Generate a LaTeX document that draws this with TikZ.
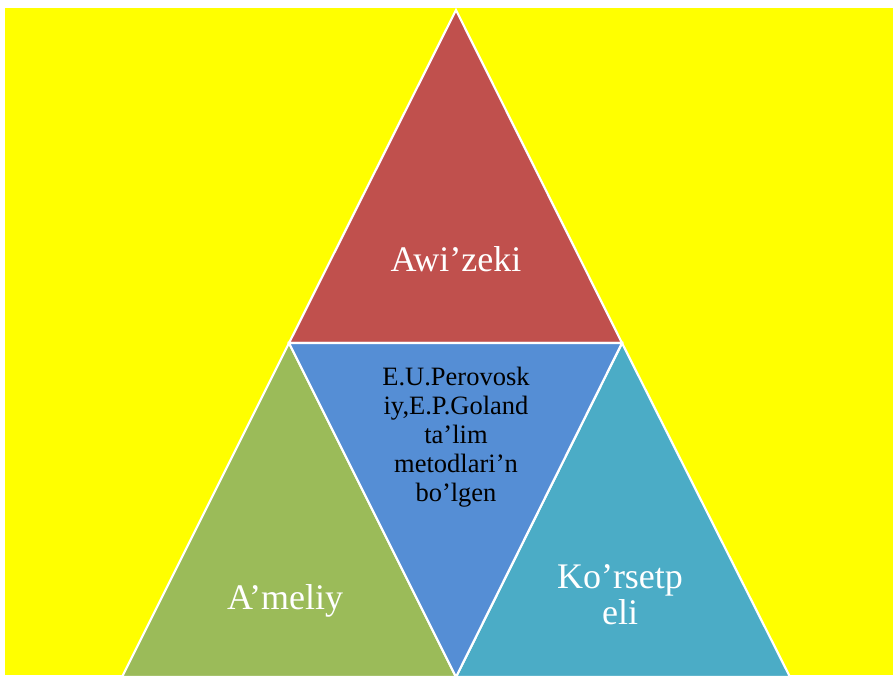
\documentclass[tikz,border=0pt]{standalone}
\usepackage{fontspec}
\setmainfont{Liberation Serif}
\definecolor{bgyellow}{RGB}{255,255,0}
\definecolor{tred}{RGB}{192,80,77}
\definecolor{tgreen}{RGB}{155,187,89}
\definecolor{tblue}{RGB}{85,142,213}
\definecolor{tcyan}{RGB}{75,172,198}
\tikzset{
  tri/.style={draw=white, line width=2.2pt, line join=miter},
  bigtext/.style={text=white, font=\fontsize{36}{36}\selectfont, inner sep=0pt, align=center},
  midtext/.style={text=black, font=\fontsize{26.5}{29}\selectfont, inner sep=0pt, align=center}
}
\begin{document}
\begin{tikzpicture}[x=1pt,y=-1pt]
\useasboundingbox (0,0) rectangle (893,675);
\fill[bgyellow] (5,8) rectangle (893,675);
\coordinate (apex) at (456,10);
\coordinate (ml) at (289,343);
\coordinate (mr) at (622,343);
\coordinate (bl) at (122,677);
\coordinate (bm) at (456,677);
\coordinate (br) at (790,677);
\filldraw[tri, fill=tred] (apex) -- (ml) -- (mr) -- cycle;
\filldraw[tri, fill=tgreen] (ml) -- (bl) -- (bm) -- cycle;
\filldraw[tri, fill=tcyan] (mr) -- (bm) -- (br) -- cycle;
\filldraw[tri, fill=tblue] (ml) -- (mr) -- (bm) -- cycle;
\node[bigtext, anchor=base] (top) at (456,271) {Awi’zeki};
\node[bigtext, anchor=base] (left) at (285,609) {A’meliy};
\node[bigtext, anchor=base] (right) at (620,624) {Ko’rsetp\\eli};
\node[midtext, anchor=base] (mid) at (456,501) {E.U.Perovosk\\iy,E.P.Goland\\ta’lim\\metodlari’n\\bo’lgen};
\end{tikzpicture}
\end{document}
